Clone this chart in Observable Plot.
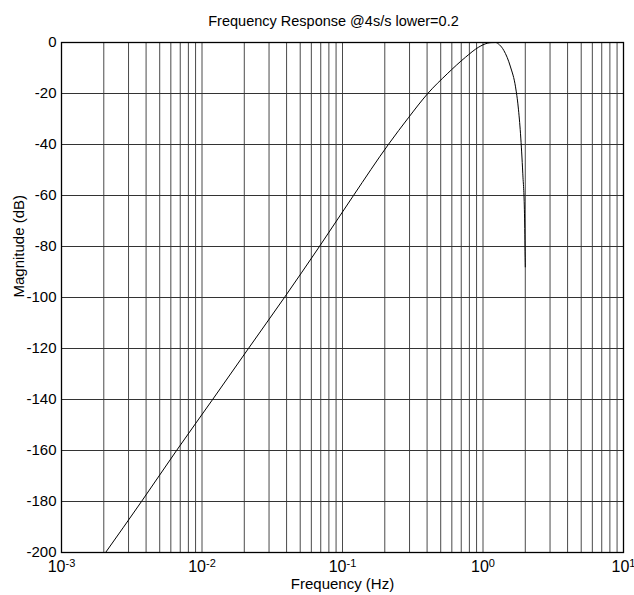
<!DOCTYPE html>
<html><head><meta charset="utf-8">
<script src="https://cdn.jsdelivr.net/npm/d3@7"></script>
<script src="https://cdn.jsdelivr.net/npm/@observablehq/plot@0.6"></script>
<style>body{margin:0;background:#fff}</style>
</head><body><div id="chart"></div>
<script>
const title = "Frequency Response @4s/s lower=0.2";
const xLabel = "Frequency (Hz)";
const yLabel = "Magnitude (dB)";
const freqHz = [0.00206, 0.00371, 0.00659, 0.0119, 0.0214, 0.0386, 0.0685, 0.1197, 0.212, 0.2965, 0.4045, 0.556, 0.750, 0.933, 1.071, 1.14, 1.227, 1.31, 1.406, 1.570, 1.704, 1.781, 1.849, 1.920, 1.974, 1.995, 2.0];
const magDb  = [-200, -180, -160, -140, -120, -100, -80, -60, -40, -29.3, -20, -12.3, -5.8, -1.8, -0.3, -0.05, 0, -0.9, -3.1, -9.6, -17.4, -25.3, -35.8, -51.5, -67.2, -84.2, -88];
const xDecades = [0.001, 0.01, 0.1, 1, 10];
const xDecadeExps = ["-3", "-2", "-1", "0", "1"];
const gridMultipliers = [1, 2, 3, 4, 5, 6, 7, 8, 9];
const yTicks = [0, -20, -40, -60, -80, -100, -120, -140, -160, -180, -200];

const data = freqHz.map((f, i) => ({f, db: magDb[i]}));
const gridX = xDecades.slice(0, 4).flatMap(d => gridMultipliers.map(m => d * m));

const chart = Plot.plot({
  width: 634, height: 595,
  marginLeft: 61, marginRight: 11, marginTop: 42, marginBottom: 43,
  style: {fontFamily: "'Liberation Sans', Arial, sans-serif", fontSize: "14px", background: "#fff", color: "#000"},
  x: {type: "log", domain: [0.001, 10]},
  y: {domain: [-200, 0]},
  marks: [
    Plot.ruleX(gridX, {stroke: "#4a4a4a", strokeWidth: 1}),
    Plot.ruleY(yTicks, {stroke: "#333", strokeWidth: 1}),
    Plot.line(data, {x: "f", y: "db", stroke: "#000", strokeWidth: 1, curve: "monotone-x"}),
    Plot.frame({stroke: "#000", strokeWidth: 1.3}),
    Plot.axisX(xDecades, {tickSize: 0, tickPadding: 8, fontSize: 16, tickFormat: () => "10", label: null}),
    Plot.axisY(yTicks, {tickSize: 0, tickPadding: 5, fontSize: 15, tickFormat: d => String(d), label: null}),
    Plot.text([title], {frameAnchor: "top", dx: -9, dy: -27, fontSize: 14.5, textAnchor: "middle"}),
    Plot.text([xLabel], {frameAnchor: "bottom", dy: 36, fontSize: 15}),
    Plot.text([yLabel], {frameAnchor: "left", dx: -42, rotate: -90, fontSize: 15})
  ]
});

d3.select(chart).selectAll('g[aria-label="x-axis tick label"] text').each(function(d, i) {
  const t = d3.select(this);
  const e = xDecadeExps[i];
  t.text(null);
  t.append("tspan").text("10");
  t.append("tspan").attr("dy", "-0.45em").attr("font-size", "11px").text(e);
});

document.getElementById("chart").appendChild(chart);
</script>
</body></html>
